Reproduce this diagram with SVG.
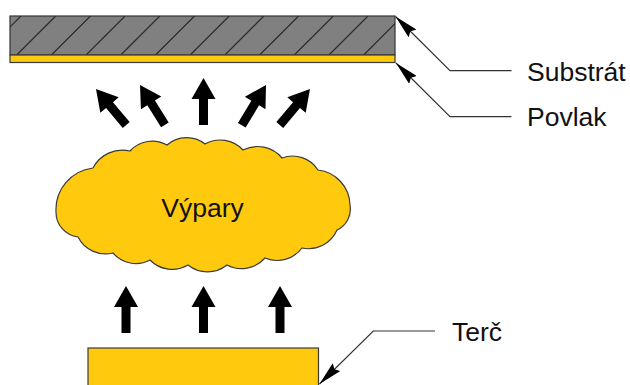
<svg xmlns="http://www.w3.org/2000/svg" width="630" height="385" viewBox="0 0 630 385">
  <style>
    .lbl { font-family: "Liberation Sans", Arial, sans-serif; font-size: 26.5px; fill: #111; }
    .yel { fill: #FFC90E; stroke: #3a3a3a; stroke-width: 1.2; }
    .lead { fill: none; stroke: #333; stroke-width: 1.2; }
    .hatch { stroke: #2a2a2a; stroke-width: 1.2; }
    .big { fill: #000; }
  </style>
  <defs>
    <marker id="tip" viewBox="0 0 24 11" refX="24" refY="5.5" markerWidth="24" markerHeight="11" markerUnits="userSpaceOnUse" orient="auto">
      <path d="M0,0 L24,5.5 L0,11 L3,5.5 Z" fill="#000"/>
    </marker>
    <!-- block arrow pointing up, tip at origin -->
    <path id="blockArrow" d="M0,0 L12,21 L4.5,21 L4.5,47 L-4.5,47 L-4.5,21 L-12,21 Z"/>
    <clipPath id="subClip">
      <rect x="10" y="16" width="385" height="39"/>
    </clipPath>
  </defs>

  <!-- substrate with coating -->
  <g id="substrat">
    <rect x="10" y="16" width="385" height="39" fill="#808080"/>
    <g clip-path="url(#subClip)" class="hatch">
      <line x1="-18" y1="55" x2="21" y2="16"/>
      <line x1="16.7" y1="55" x2="55.7" y2="16"/>
      <line x1="51.4" y1="55" x2="90.4" y2="16"/>
      <line x1="86.1" y1="55" x2="125.1" y2="16"/>
      <line x1="120.8" y1="55" x2="159.8" y2="16"/>
      <line x1="155.5" y1="55" x2="194.5" y2="16"/>
      <line x1="190.2" y1="55" x2="229.2" y2="16"/>
      <line x1="224.9" y1="55" x2="263.9" y2="16"/>
      <line x1="259.6" y1="55" x2="298.6" y2="16"/>
      <line x1="294.3" y1="55" x2="333.3" y2="16"/>
      <line x1="329" y1="55" x2="368" y2="16"/>
      <line x1="363.7" y1="55" x2="402.7" y2="16"/>
    </g>
    <rect x="10" y="16" width="385" height="39" fill="none" stroke="#333" stroke-width="1.2"/>
  </g>
  <g id="povlak">
    <rect x="10" y="55" width="385" height="7.5" class="yel"/>
  </g>

  <!-- vapour cloud -->
  <g id="vypary">
    <path class="yel" d="M56,212
      A42,42 0 0 1 93,168
      A33,33 0 0 1 130,151
      A30,30 0 0 1 167,145
      A30,30 0 0 1 205,144
      A31,31 0 0 1 243,150
      A32,32 0 0 1 282,158
      A30,30 0 0 1 318,170
      A36,36 0 0 1 350,205
      A23,23 0 0 1 337,230
      A31,31 0 0 1 302,248
      A31,31 0 0 1 265,258
      A31,31 0 0 1 227,265
      A31,31 0 0 1 188,265
      A31,31 0 0 1 150,260
      A30,30 0 0 1 113,253
      A31,31 0 0 1 78,237
      A25,25 0 0 1 56,212 Z"/>
    <text class="lbl" x="202.5" y="217" text-anchor="middle">Výpary</text>
  </g>

  <!-- target -->
  <g id="terc">
    <rect x="88" y="348" width="230.5" height="45" class="yel"/>
  </g>

  <!-- flow arrows -->
  <g id="toky" class="big">
    <use href="#blockArrow" transform="translate(96,89) rotate(-40)"/>
    <use href="#blockArrow" transform="translate(140,85) rotate(-32)"/>
    <use href="#blockArrow" transform="translate(203.5,78)"/>
    <use href="#blockArrow" transform="translate(266,85) rotate(31)"/>
    <use href="#blockArrow" transform="translate(310,89) rotate(40)"/>
    <use href="#blockArrow" transform="translate(126,286)"/>
    <use href="#blockArrow" transform="translate(203.5,286)"/>
    <use href="#blockArrow" transform="translate(280,286)"/>
  </g>

  <!-- leader lines -->
  <g id="odkazy" class="lead">
    <polyline points="511.5,70.7 450,70.7 395.5,16.5" marker-end="url(#tip)"/>
    <polyline points="511.5,116.7 450,116.7 396,63" marker-end="url(#tip)"/>
    <polyline points="435,331 373.3,331 319.5,384" marker-end="url(#tip)"/>
  </g>

  <g id="popisky">
    <text class="lbl" x="527" y="80.5">Substrát</text>
    <text class="lbl" x="527" y="126">Povlak</text>
    <text class="lbl" x="452" y="341">Terč</text>
  </g>
</svg>
